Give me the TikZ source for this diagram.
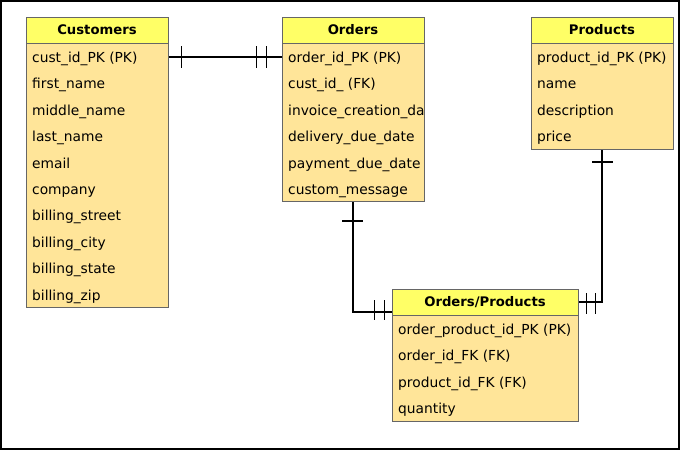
\documentclass[tikz,border=0pt]{standalone}
\usepackage{fontspec}
\setmainfont{DejaVu Sans}
\usetikzlibrary{calc}
\definecolor{hdrc}{HTML}{FFFF66}
\definecolor{bodyc}{HTML}{FFE599}
\definecolor{edgec}{HTML}{666666}
\begin{document}
\begin{tikzpicture}[x=1pt,y=-1pt,
  hdr/.style={draw=edgec, fill=hdrc, line width=1pt, minimum height=26pt, inner sep=0pt, font=\fontsize{13.2}{15}\selectfont\bfseries},
  tbody/.style={draw=edgec, fill=bodyc, line width=1pt, inner sep=0pt},
  fld/.style={anchor=base west, inner sep=0pt, font=\fontsize{13.8}{16}\selectfont},
  rel/.style={line width=1.6pt, black},
  tick/.style={line width=1.2pt, black}]
\useasboundingbox (0,0) rectangle (680,450);
\draw[line width=2pt] (1,1) rectangle (679,449);
% Customers
\node[tbody, minimum width=142pt, minimum height=264pt, anchor=north] (custb) at (97,43) {};
\node[hdr, minimum width=142pt] (custh) at (97,30) {Customers};
\foreach \t [count=\i] in {cust\_id\_PK (PK), first\_name, middle\_name, last\_name, email, company, billing\_street, billing\_city, billing\_state, billing\_zip}
  \node[fld] (c\i) at ({32},{62.5+26.4*(\i-1)}) {\t};
% Orders
\node[tbody, minimum width=142pt, minimum height=158pt, anchor=north] (ordb) at (353,43) {};
\node[hdr, minimum width=142pt] (ordh) at (353,30) {Orders};
\foreach \t [count=\i] in {order\_id\_PK (PK), cust\_id\_ (FK), invoice\_creation\_da, delivery\_due\_date, payment\_due\_date, custom\_message}
  \node[fld] (o\i) at ({288},{62.5+26.4*(\i-1)}) {\t};
% Products
\node[tbody, minimum width=142pt, minimum height=106pt, anchor=north] (prb) at (602,43) {};
\node[hdr, minimum width=142pt] (prh) at (602,30) {Products};
\foreach \t [count=\i] in {product\_id\_PK (PK), name, description, price}
  \node[fld] (p\i) at ({537},{62.5+26.4*(\i-1)}) {\t};
% Orders/Products
\node[tbody, minimum width=186pt, minimum height=106pt, anchor=north] (opb) at (485,315) {};
\node[hdr, minimum width=186pt] (oph) at (485,302) {Orders/Products};
\foreach \t [count=\i] in {order\_product\_id\_PK (PK), order\_id\_FK (FK), product\_id\_FK (FK), quantity}
  \node[fld] (q\i) at ({398},{334.5+26.4*(\i-1)}) {\t};
% Customers -- Orders
\coordinate (a1) at ($(custb.north east)+(0,14)$);
\coordinate (a2) at ($(ordb.north west)+(0,14)$);
\draw[rel] (a1) -- (a2);
\draw[tick] ($(a1)+(13,-11)$) -- ($(a1)+(13,11)$);
\draw[tick] ($(a2)+(-25,-11)$) -- ($(a2)+(-25,11)$);
\draw[tick] ($(a2)+(-15,-11)$) -- ($(a2)+(-15,11)$);
% Orders -- Orders/Products
\coordinate (b2) at ($(oph.west)+(0,10)$);
\draw[rel] (ordb.south) |- (b2);
\draw[tick] ($(ordb.south)+(-11,19)$) -- ($(ordb.south)+(10,19)$);
\draw[tick] ($(b2)+(-17,-12)$) -- ($(b2)+(-17,8)$);
\draw[tick] ($(b2)+(-7,-12)$) -- ($(b2)+(-7,8)$);
% Products -- Orders/Products
\draw[rel] (prb.south) |- (oph.east);
\draw[tick] ($(prb.south)+(-10,12)$) -- ($(prb.south)+(11,12)$);
\draw[tick] ($(oph.east)+(8,-9)$) -- ($(oph.east)+(8,12)$);
\draw[tick] ($(oph.east)+(17,-9)$) -- ($(oph.east)+(17,12)$);
\end{tikzpicture}
\end{document}
